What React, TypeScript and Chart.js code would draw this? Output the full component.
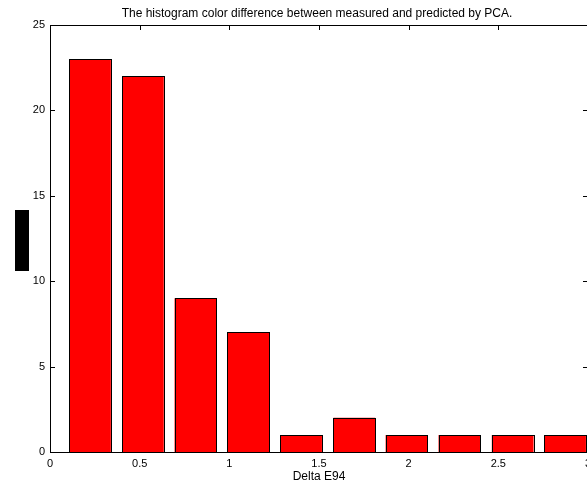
import React, { useEffect, useRef } from "react";
import { Chart, registerables } from "chart.js";

Chart.register(...registerables);

const titleText = "The histogram color difference between measured and predicted by PCA.";
const xAxisTitle = "Delta E94";
const binCenters = [0.223, 0.518, 0.811, 1.105, 1.400, 1.697, 1.988, 2.283, 2.580, 2.872];
const counts = [23, 22, 9, 7, 1, 2, 1, 1, 1, 1];
const xTickValues = [0, 0.5, 1, 1.5, 2, 2.5, 3];
const yTickValues = [0, 5, 10, 15, 20, 25];

const FONT = "Arial, 'Liberation Sans', Helvetica, sans-serif";

const framePlugin = {
  id: "matlabFrame",
  beforeDatasetsDraw(chart: any) {
    const { ctx, chartArea, scales } = chart;
    const { left, right, top, bottom } = chartArea;
    ctx.save();
    ctx.strokeStyle = "#000";
    ctx.lineWidth = 1;
    ctx.beginPath();
    const tl = 5;
    xTickValues.forEach((v) => {
      const x = Math.round(scales.x.getPixelForValue(v)) + 0.5;
      ctx.moveTo(x, top);
      ctx.lineTo(x, top + tl);
      ctx.moveTo(x, bottom);
      ctx.lineTo(x, bottom - tl);
    });
    yTickValues.forEach((v) => {
      const y = Math.round(scales.y.getPixelForValue(v)) + 0.5;
      ctx.moveTo(left, y);
      ctx.lineTo(left + tl, y);
      ctx.moveTo(right, y);
      ctx.lineTo(right - tl, y);
    });
    ctx.stroke();
    ctx.restore();
  },
  afterDatasetsDraw(chart: any) {
    const { ctx, chartArea } = chart;
    const { left, right, top, bottom } = chartArea;
    ctx.save();
    // crisp black outlines around each bar, using the bar elements' geometry
    ctx.strokeStyle = "#000";
    ctx.lineWidth = 1;
    const meta = chart.getDatasetMeta(0);
    meta.data.forEach((bar: any) => {
      const p = bar.getProps(["x", "y", "base", "width"], true);
      const x0 = Math.round(p.x - p.width / 2) + 0.5;
      const x1 = Math.round(p.x + p.width / 2) + 0.5;
      const y0 = Math.round(p.y) + 0.5;
      const y1 = Math.round(p.base) + 0.5;
      ctx.strokeRect(x0, y0, x1 - x0, y1 - y0);
    });
    ctx.strokeRect(left + 0.5, top + 0.5, right - left, bottom - top);
    ctx.fillStyle = "#000";
    ctx.font = `12px ${FONT}`;
    ctx.textAlign = "center";
    ctx.textBaseline = "middle";
    const cx = (left + right) / 2;
    ctx.fillText(titleText, cx - 2, 14);
    ctx.fillText(xAxisTitle, cx, 477);
    // y-axis label block (rendered as a solid black box in the original)
    ctx.fillRect(15, 210, 14, 61);
    ctx.restore();
  },
};

export default function App() {
  const canvasRef = useRef<HTMLCanvasElement | null>(null);

  useEffect(() => {
    document.body.style.margin = "0";
    const canvas = canvasRef.current!;
    const chart = new Chart(canvas, {
      type: "bar",
      data: {
        datasets: [
          {
            data: binCenters.map((c, i) => ({ x: c, y: counts[i] })),
            backgroundColor: "#ff0000",
            borderWidth: 0,
            barPercentage: 0.8,
            categoryPercentage: 1,
          },
        ],
      },
      options: {
        responsive: false,
        animation: false,
        devicePixelRatio: 1,
        layout: { padding: { left: 0, right: 12, top: 25, bottom: 0 } },
        plugins: {
          legend: { display: false },
          title: { display: false },
          tooltip: { enabled: false },
        },
        scales: {
          x: {
            type: "linear",
            min: 0,
            max: 3,
            offset: false,
            grid: { display: false, drawTicks: false },
            border: { display: false },
            afterBuildTicks: (s: any) => {
              s.ticks = xTickValues.map((v) => ({ value: v }));
            },
            ticks: {
              autoSkip: false,
              padding: 5,
              color: "#000",
              font: { family: FONT, size: 11 },
              maxRotation: 0,
              callback: (v: any) => String(v),
            },
            afterFit: (s: any) => {
              s.height = 33;
            },
          },
          y: {
            type: "linear",
            min: 0,
            max: 25,
            grid: { display: false, drawTicks: false },
            border: { display: false },
            afterBuildTicks: (s: any) => {
              s.ticks = yTickValues.map((v) => ({ value: v }));
            },
            ticks: {
              autoSkip: false,
              padding: 5,
              color: "#000",
              font: { family: FONT, size: 11 },
            },
            afterFit: (s: any) => {
              s.width = 50;
            },
          },
        },
      },
      plugins: [framePlugin],
    } as any);
    return () => chart.destroy();
  }, []);

  return (
    <div
      style={{
        position: "fixed",
        left: 0,
        top: 0,
        width: 587,
        height: 485,
        overflow: "hidden",
        background: "#fff",
      }}
    >
      <canvas
        ref={canvasRef}
        width={600}
        height={485}
        style={{ width: 600, height: 485, display: "block" }}
      />
    </div>
  );
}
